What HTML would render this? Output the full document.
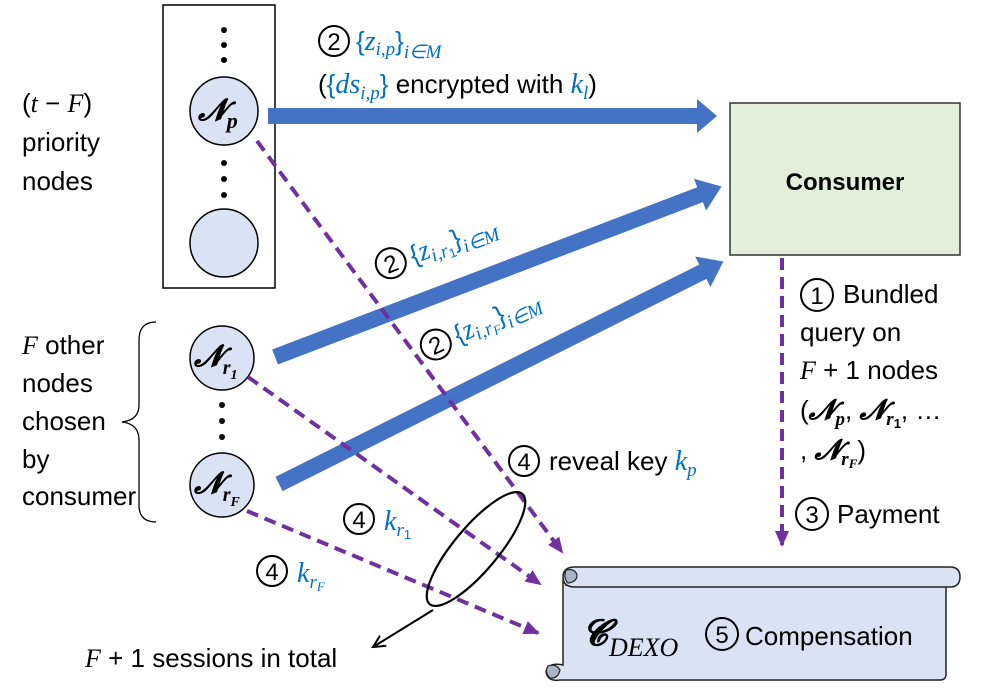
<!DOCTYPE html>
<html><head><meta charset="utf-8"><style>
html,body{margin:0;padding:0;background:#fff;}
svg{display:block;}
text{font-family:"Liberation Sans",sans-serif;}
.m{font-family:"Liberation Serif",serif;font-style:italic;}
.b{fill:#0070c0;}
.cc{fill:none;stroke:#000;stroke-width:2;}
.cd{font-size:24px;text-anchor:middle;}
</style></head><body>
<svg width="996" height="690" viewBox="0 0 996 690" xmlns="http://www.w3.org/2000/svg">
<defs>
<marker id="pb" markerWidth="16" markerHeight="16" refX="14" refY="8" orient="auto" markerUnits="userSpaceOnUse" viewBox="0 0 16 16"><path d="M0,1 L16,8 L0,15 Z" fill="#7030a0"/></marker>
<marker id="ka" markerWidth="14" markerHeight="14" refX="12" refY="7" orient="auto" markerUnits="userSpaceOnUse"><path d="M0,1 L12,7 L0,13" fill="none" stroke="#000" stroke-width="2"/></marker>
</defs>

<rect x="163" y="5" width="112" height="283" fill="#fff" stroke="#000" stroke-width="1.5"/>
<g fill="#000">
<circle cx="224" cy="30" r="3"/><circle cx="224" cy="45" r="3"/><circle cx="224" cy="60" r="3"/>
<circle cx="224" cy="163" r="3"/><circle cx="224" cy="179" r="3"/><circle cx="224" cy="195" r="3"/>
<circle cx="222" cy="405" r="3"/><circle cx="222" cy="421" r="3"/><circle cx="222" cy="437" r="3"/>
</g>
<circle cx="224" cy="111" r="34" fill="#dae3f3" stroke="#000" stroke-width="1.5"/>
<circle cx="224" cy="243" r="34" fill="#dae3f3" stroke="#000" stroke-width="1.5"/>
<circle cx="222" cy="358" r="32" fill="#dae3f3" stroke="#000" stroke-width="1.5"/>
<circle cx="222" cy="485" r="32" fill="#dae3f3" stroke="#000" stroke-width="1.5"/>
<text x="198" y="120" font-size="30" font-weight="bold" class="m">𝓝<tspan font-size="22" dy="8">p</tspan></text>
<text x="194" y="366" font-size="30" font-weight="bold" class="m">𝓝<tspan font-size="20" dy="8">r</tspan><tspan font-size="14" dy="5">1</tspan></text>
<text x="194" y="493" font-size="30" font-weight="bold" class="m">𝓝<tspan font-size="20" dy="8">r</tspan><tspan font-size="14" dy="5">F</tspan></text>

<path d="M156,322 Q139,322 139,340 L139,405 Q139,420 122,422 Q139,424 139,440 L139,505 Q139,522 156,522" fill="none" stroke="#000" stroke-width="1.3"/>

<rect x="730" y="103" width="230" height="152" fill="#e2efda" stroke="#333" stroke-width="1.5"/>
<text x="845" y="190" font-size="24" font-weight="bold" text-anchor="middle">Consumer</text>

<polygon points="268,108 697,108 697,99 717,116 697,133 697,124 268,124" fill="#4472c4"/>
<g transform="translate(275,357) rotate(-20.9)">
<polygon points="0,-8 455,-8 455,-17 478,0 455,17 455,8 0,8" fill="#4472c4"/>
</g>
<g transform="translate(279,484) rotate(-26.6)">
<polygon points="0,-8 474,-8 474,-17 497,0 474,17 474,8 0,8" fill="#4472c4"/>
</g>

<g stroke="#7030a0" stroke-width="4" stroke-dasharray="12,7" fill="none">
<line x1="782" y1="258" x2="782" y2="545" marker-end="url(#pb)"/>
<line x1="257" y1="141" x2="562" y2="552" marker-end="url(#pb)"/>
<line x1="248" y1="377" x2="540" y2="584" marker-end="url(#pb)"/>
<line x1="247" y1="511" x2="538" y2="633" marker-end="url(#pb)"/>
</g>

<ellipse cx="476" cy="549" rx="72" ry="22" transform="rotate(-50 476 549)" fill="none" stroke="#000" stroke-width="2.2"/>
<line x1="433" y1="610" x2="373" y2="647" stroke="#000" stroke-width="2" marker-end="url(#ka)"/>

<path d="M563,580 L563,665 Q548,662 546,672 Q548,682 560,680 L940,680 Q946,680 946,674 L946,585 L565,585" fill="#dae3f3" stroke="#222" stroke-width="1.5"/>
<path d="M575,567 L950,567 Q960,567 960,577 Q960,587 950,587 L575,587 Q563,587 563,577 Q563,567 575,567 Z" fill="#dae3f3" stroke="#222" stroke-width="1.5"/>
<path d="M566,570 Q575,568 577,575 Q577,582 568,583 Q563,578 566,570Z" fill="#aab4c4" stroke="#222" stroke-width="1.2"/>
<path d="M548,666 Q556,663 560,670 Q558,679 550,678 Q544,672 548,666Z" fill="#aab4c4" stroke="#222" stroke-width="1.2"/>
<text x="582" y="645" font-size="36" font-weight="bold" class="m">𝓒</text>
<text x="609" y="656" font-size="26" class="m">DEXO</text>
<circle class="cc" cx="722" cy="634" r="16"/><text class="cd" x="722" y="643">5</text>
<text x="745" y="645" font-size="26">Compensation</text>

<!-- circled numbers -->
<circle class="cc" cx="334" cy="41" r="15"/><text class="cd" x="334" y="50">2</text>
<circle class="cc" cx="817" cy="295" r="16"/><text class="cd" x="817" y="304">1</text>
<circle class="cc" cx="812" cy="514" r="16"/><text class="cd" x="812" y="523">3</text>
<circle class="cc" cx="524" cy="461" r="15"/><text class="cd" x="524" y="470">4</text>
<circle class="cc" cx="359" cy="519" r="15"/><text class="cd" x="359" y="528">4</text>
<circle class="cc" cx="272" cy="571" r="15"/><text class="cd" x="272" y="580">4</text>

<g font-size="26">
<text x="22" y="112">(<tspan class="m">t</tspan> − <tspan class="m">F</tspan>)</text>
<text x="22" y="151">priority</text>
<text x="22" y="190">nodes</text>
<text x="22" y="354"><tspan class="m">F</tspan> other</text>
<text x="22" y="392">nodes</text>
<text x="22" y="430">chosen</text>
<text x="22" y="468">by</text>
<text x="22" y="505">consumer</text>

<text x="356" y="50"><tspan class="b">{<tspan class="m" font-size="28">z</tspan><tspan class="m" font-size="19" dy="5">i,p</tspan><tspan dy="-5">}</tspan><tspan class="m" font-size="19" dy="8">i∈M</tspan></tspan></text>
<text x="318" y="93">(<tspan class="b">{<tspan class="m" font-size="28">ds</tspan><tspan class="m" font-size="19" dy="6">i,p</tspan><tspan dy="-6">}</tspan></tspan> encrypted with <tspan class="b m" font-size="28">k</tspan><tspan class="b m" font-size="19" dy="6">l</tspan><tspan dy="-6">)</tspan></text>

<text x="843" y="303">Bundled</text>
<text x="800" y="341">query on</text>
<text x="800" y="379"><tspan class="m">F</tspan> + 1 nodes</text>
<text x="800" y="419">(<tspan class="m" font-weight="bold" font-size="28">𝓝</tspan><tspan class="m" font-weight="bold" font-size="19" dy="6">p</tspan><tspan dy="-6">, </tspan><tspan class="m" font-weight="bold" font-size="28">𝓝</tspan><tspan class="m" font-weight="bold" font-size="19" dy="6">r</tspan><tspan font-weight="bold" font-size="13" dy="3">1</tspan><tspan dy="-9">, …</tspan></text>
<text x="800" y="459">, <tspan class="m" font-weight="bold" font-size="28">𝓝</tspan><tspan class="m" font-weight="bold" font-size="19" dy="6">r</tspan><tspan class="m" font-weight="bold" font-size="13" dy="3">F</tspan><tspan dy="-9">)</tspan></text>
<text x="837" y="523">Payment</text>

<text x="549" y="470">reveal key <tspan class="b m" font-size="28">k</tspan><tspan class="b m" font-size="19" dy="6">p</tspan></text>
<text x="384" y="530"><tspan class="b m" font-size="28">k</tspan><tspan class="b m" font-size="19" dy="6">r</tspan><tspan class="b" font-size="13" dy="3">1</tspan></text>
<text x="297" y="582"><tspan class="b m" font-size="28">k</tspan><tspan class="b m" font-size="19" dy="6">r</tspan><tspan class="b m" font-size="13" dy="3">F</tspan></text>
<text x="85" y="667"><tspan class="m">F</tspan> + 1 sessions in total</text>
</g>

<g font-size="26" transform="translate(380,277) rotate(-21)">
<circle class="cc" cx="15" cy="-9" r="15"/><text class="cd" x="15" y="0">2</text>
<text x="36" y="0"><tspan class="b">{<tspan class="m" font-size="28">z</tspan><tspan class="m" font-size="19" dy="5">i,r</tspan><tspan font-size="13" dy="3">1</tspan><tspan dy="-8">}</tspan><tspan class="m" font-size="19" dy="8">i∈M</tspan></tspan></text>
</g>
<g font-size="26" transform="translate(426,359) rotate(-25)">
<circle class="cc" cx="15" cy="-9" r="15"/><text class="cd" x="15" y="0">2</text>
<text x="36" y="0"><tspan class="b">{<tspan class="m" font-size="28">z</tspan><tspan class="m" font-size="19" dy="5">i,r</tspan><tspan class="m" font-size="13" dy="3">F</tspan><tspan dy="-8">}</tspan><tspan class="m" font-size="19" dy="8">i∈M</tspan></tspan></text>
</g>
</svg>
</body></html>
